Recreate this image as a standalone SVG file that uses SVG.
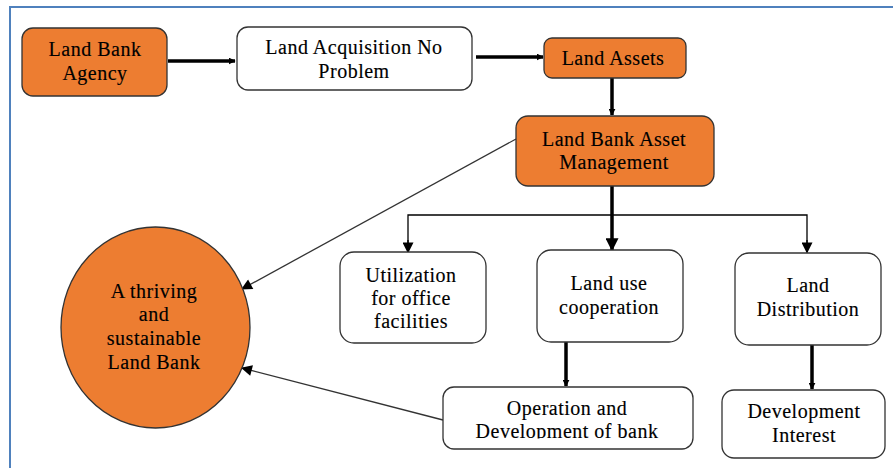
<svg xmlns="http://www.w3.org/2000/svg" width="893" height="468" viewBox="0 0 893 468">
  <style>
    .box { stroke: #333333; stroke-width: 1.3; }
    .orange { fill: #ED7D31; }
    .white { fill: #FFFFFF; }
    .lbl { font-family: 'Liberation Serif', 'Times New Roman', serif; font-size: 20px; letter-spacing: 0.5px; fill: #000000; stroke: #000000; stroke-width: 0.15; text-anchor: middle; }
    .thick { stroke: #000000; stroke-width: 3.5; fill: none; }
    .thin { stroke: #000000; stroke-width: 1.3; fill: none; }
    .diag { stroke: #333333; stroke-width: 1.3; fill: none; }
  </style>
  <defs>
    <marker id="headThick" viewBox="0 0 10 10" refX="9" refY="5" markerWidth="7" markerHeight="7" markerUnits="userSpaceOnUse" orient="auto">
      <path d="M0,0 L10,5 L0,10 Z" fill="#000000"/>
    </marker>
    <marker id="headBig" viewBox="0 0 10 10" refX="9" refY="5" markerWidth="13" markerHeight="13" markerUnits="userSpaceOnUse" orient="auto">
      <path d="M0,0 L10,5 L0,10 Z" fill="#000000"/>
    </marker>
    <marker id="headThin" viewBox="0 0 10 10" refX="9" refY="5" markerWidth="12" markerHeight="11" markerUnits="userSpaceOnUse" orient="auto">
      <path d="M0,0 L10,5 L0,10 Z" fill="#000000"/>
    </marker>
    <clipPath id="opClip">
      <rect x="443" y="387" width="250" height="51.5"/>
    </clipPath>
  </defs>

  <rect width="893" height="468" fill="#FFFFFF"/>

  <!-- outer frame: only the top and left edges are drawn -->
  <path d="M10,468 L10,7 L893,7" fill="none" stroke="#4F81BD" stroke-width="2"/>

  <g id="connectors">
    <line class="thick" x1="168" y1="61" x2="235" y2="61" marker-end="url(#headThick)"/>
    <line class="thick" x1="476" y1="57" x2="543" y2="57" marker-end="url(#headThick)"/>
    <line class="thick" x1="612" y1="78" x2="612" y2="115" marker-end="url(#headThick)"/>
    <line class="thick" x1="612" y1="181" x2="612" y2="250" marker-end="url(#headBig)"/>
    <path class="thin" d="M408,252 L408,215 L807,215 L807,252"/>
    <line class="thin" x1="408" y1="240" x2="408" y2="252.5" marker-end="url(#headThin)"/>
    <line class="thin" x1="807" y1="240" x2="807" y2="252.5" marker-end="url(#headThin)"/>
    <line class="thick" x1="566" y1="342" x2="566" y2="386" marker-end="url(#headThick)"/>
    <line class="thick" x1="812" y1="345" x2="812" y2="389" marker-end="url(#headThick)"/>
    <line class="diag" x1="516" y1="139" x2="242" y2="289" marker-end="url(#headThin)"/>
    <line class="diag" x1="443" y1="420" x2="242" y2="368" marker-end="url(#headThin)"/>
  </g>

  <g id="agency">
    <rect class="box orange" x="22" y="28" width="145" height="68" rx="11"/>
    <text class="lbl" x="95" y="56">Land Bank</text>
    <text class="lbl" x="95" y="80">Agency</text>
  </g>

  <g id="acquisition">
    <rect class="box white" x="237" y="27" width="235" height="63" rx="11"/>
    <text class="lbl" x="354" y="54">Land Acquisition No</text>
    <text class="lbl" x="354" y="78">Problem</text>
  </g>

  <g id="assets">
    <rect class="box orange" x="544" y="38" width="142" height="40" rx="8"/>
    <text class="lbl" x="613" y="65">Land Assets</text>
  </g>

  <g id="asset-management">
    <rect class="box orange" x="516" y="116" width="198" height="70" rx="12"/>
    <text class="lbl" x="614" y="146">Land Bank Asset</text>
    <text class="lbl" x="614" y="169">Management</text>
  </g>

  <g id="utilization">
    <rect class="box white" x="340" y="252" width="146" height="91" rx="14"/>
    <text class="lbl" x="411" y="282">Utilization</text>
    <text class="lbl" x="411" y="305">for office</text>
    <text class="lbl" x="411" y="328">facilities</text>
  </g>

  <g id="land-use">
    <rect class="box white" x="537" y="250" width="146" height="92" rx="14"/>
    <text class="lbl" x="609" y="290">Land use</text>
    <text class="lbl" x="609" y="314">cooperation</text>
  </g>

  <g id="distribution">
    <rect class="box white" x="735" y="253" width="146" height="92" rx="14"/>
    <text class="lbl" x="808" y="292">Land</text>
    <text class="lbl" x="808" y="316">Distribution</text>
  </g>

  <g id="operation">
    <rect class="box white" x="443" y="387" width="250" height="62" rx="11"/>
    <text class="lbl" x="567" y="415">Operation and</text>
    <text class="lbl" x="567" y="437.5" clip-path="url(#opClip)">Development of bank</text>
  </g>

  <g id="development-interest">
    <rect class="box white" x="722" y="390" width="163" height="68" rx="12"/>
    <text class="lbl" x="804" y="418">Development</text>
    <text class="lbl" x="804" y="442">Interest</text>
  </g>

  <g id="thriving-land-bank">
    <ellipse class="box orange" cx="155.5" cy="327.5" rx="94.5" ry="100.5"/>
    <text class="lbl" x="154" y="298">A thriving</text>
    <text class="lbl" x="154" y="321">and</text>
    <text class="lbl" x="154" y="345">sustainable</text>
    <text class="lbl" x="154" y="369">Land Bank</text>
  </g>
</svg>
